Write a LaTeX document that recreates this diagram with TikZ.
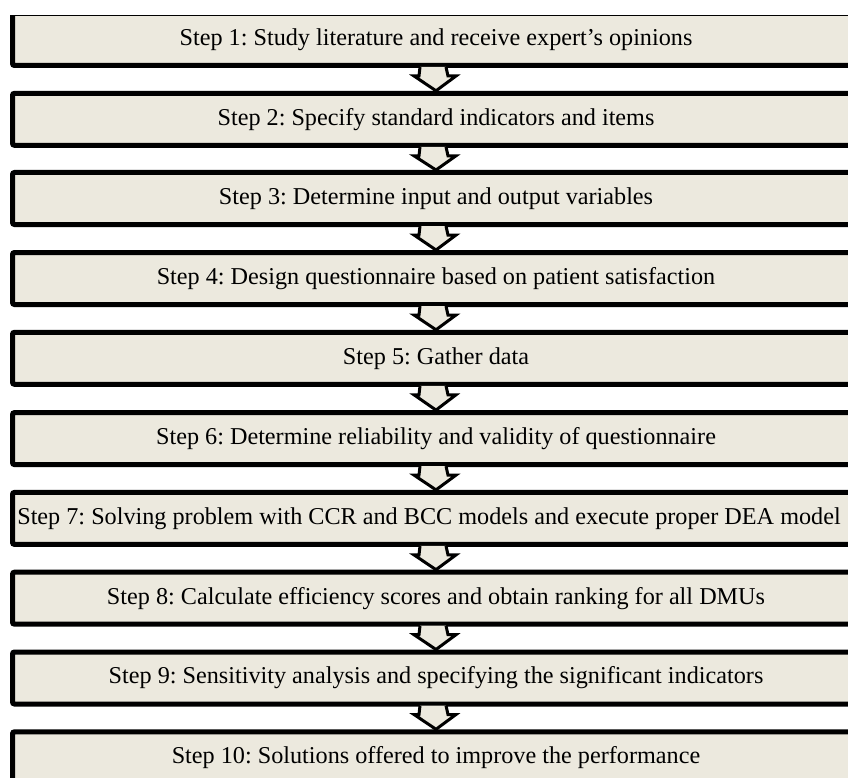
\documentclass[tikz,border=0pt]{standalone}
\usepackage{fontspec}
\setmainfont{Liberation Serif}
\frenchspacing
\definecolor{boxfill}{RGB}{236,233,222}
\tikzset{
  stepbox/.style={draw=black, fill=boxfill, line width=5pt, rounded corners=2pt,
    minimum width=847pt, minimum height=52pt, inner sep=0pt,
    font=\fontsize{24.2}{28}\selectfont},
  steptext/.style={inner sep=0pt, font=\fontsize{24.2}{28}\selectfont},
  flowarrow/.style={draw=black, fill=boxfill, line width=3pt, line join=miter}
}
\begin{document}
\begin{tikzpicture}[x=1pt,y=-1pt]
\useasboundingbox (0,0) rectangle (848,778);
\clip (0,16) rectangle (848,778);
\node[stepbox] (b1)  at (436,39.5)  {Step 1: Study literature and receive expert’s opinions};
\node[stepbox] (b2)  at (436,119.3) {Step 2: Specify standard indicators and items};
\node[stepbox] (b3)  at (436,198.5) {Step 3: Determine input and output variables};
\node[stepbox] (b4)  at (436,278.5) {Step 4: Design questionnaire based on patient satisfaction};
\node[stepbox] (b5)  at (436,358.3) {Step 5: Gather data};
\node[stepbox] (b6)  at (436,438.6) {Step 6: Determine reliability and validity of questionnaire};
\node[stepbox] (b7)  at (436,518.4) {};
\node[steptext] (t7) at (429,518.4) {Step 7: Solving problem with CCR and BCC models and execute proper DEA model};
\node[stepbox] (b8)  at (436,598.2) {Step 8: Calculate efficiency scores and obtain ranking for all DMUs};
\node[stepbox] (b9)  at (436,678)   {Step 9: Sensitivity analysis and specifying the significant indicators};
\node[stepbox] (b10) at (436,757.8) {Step 10: Solutions offered to improve the performance};
\foreach \a/\b in {b1/b2,b2/b3,b3/b4,b4/b5,b5/b6,b6/b7,b7/b8,b8/b9,b9/b10}{
  \draw[flowarrow] ([xshift=-16pt,yshift=1pt]\a.south) -- ++(-1,9) -- ++(-5,0)
    -- (\b.north) -- ([xshift=20pt,yshift=-8pt]\a.south) -- ++(-8,0)
    -- ([xshift=10pt,yshift=1pt]\a.south);
}
\end{tikzpicture}
\end{document}
